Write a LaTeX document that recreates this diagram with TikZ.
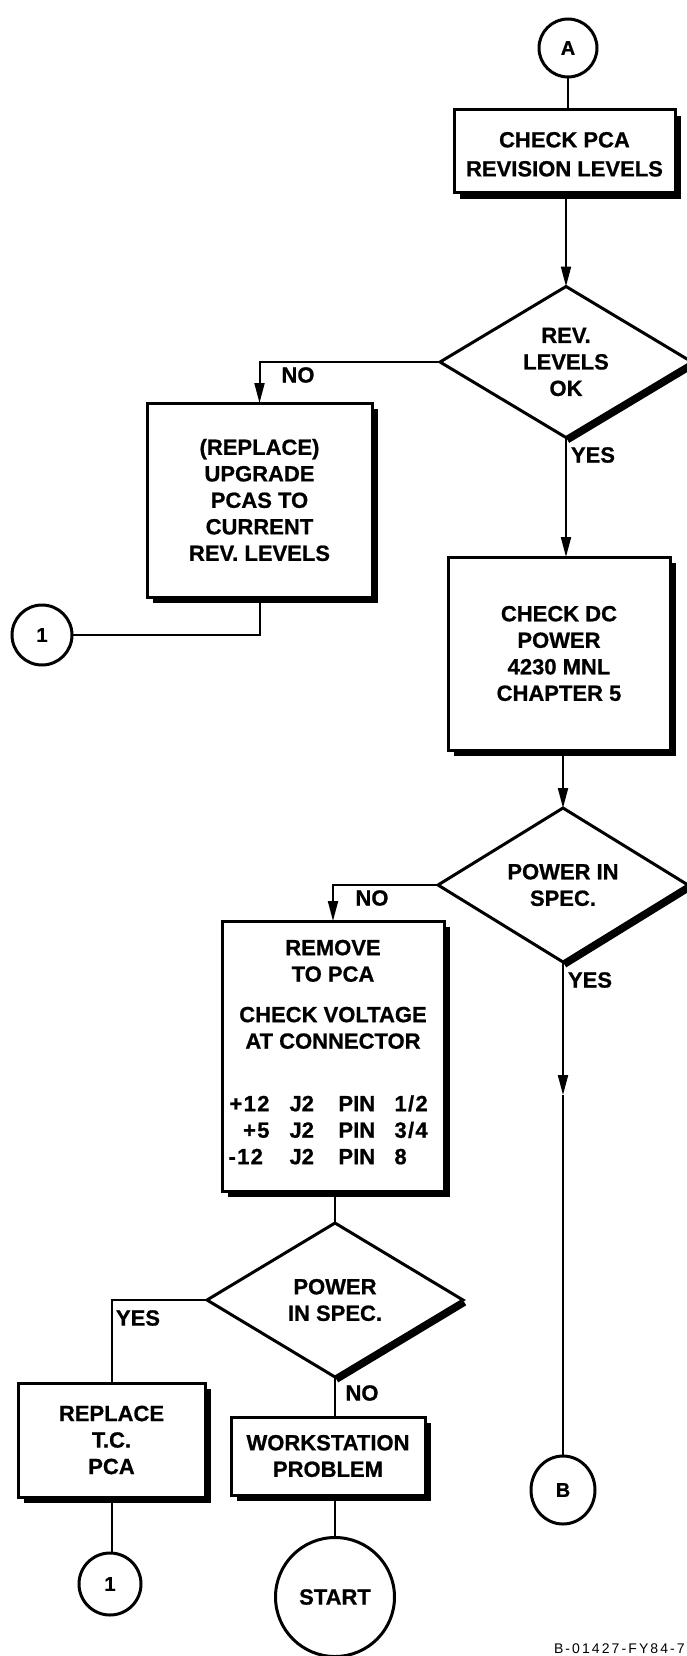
\documentclass[tikz,border=0pt]{standalone}
\usepackage{fontspec}
\setmainfont{Liberation Sans}[BoldFeatures={FakeBold=0.8}]
\usetikzlibrary{shapes.geometric,arrows.meta,calc}
\tikzset{
  txt/.style={font=\fontsize{22}{26.5}\selectfont\bfseries},
  pbox/.style={txt, draw, line width=3pt, rectangle, inner sep=0pt, outer sep=0pt, align=center},
  dec/.style={txt, draw, line width=3pt, diamond, aspect=1.66, inner sep=0pt, outer sep=0pt, align=center},
  conn/.style={draw, line width=3pt, circle, inner sep=0pt, outer sep=0pt, font=\fontsize{20}{22}\selectfont\bfseries},
  link/.style={line width=2pt},
  arr/.style={line width=2pt, -{Triangle[length=20pt,width=10pt]}},
  lbl/.style={txt, inner sep=0pt},
  shade/.style={line width=5pt},
}
\newcommand{\boxshadow}[1]{\draw[shade] ([shift={(3.5pt,-6pt)}]#1.north east) -- ([shift={(3.5pt,-3.5pt)}]#1.south east) -- ([shift={(6pt,-3.5pt)}]#1.south west);}
\newcommand{\decshadow}[1]{\draw[shade] ([shift={(1.9pt,-3.2pt)}]#1.east) -- ([shift={(1.9pt,-3.2pt)}]#1.south);}
\newcommand{\trow}[4]{\makebox[41pt][#1]{\addfontfeature{LetterSpace=6}#2}\hspace{20pt}\makebox[27pt][l]{J2}\hspace{22pt}\makebox[36pt][l]{PIN}\hspace{20pt}\makebox[43pt][l]{\addfontfeature{LetterSpace=6}#3}#4}
\begin{document}
\begin{tikzpicture}[x=1pt,y=-1pt]
\fill[white] (0,0) rectangle (686,1656);
\useasboundingbox (0,0) rectangle (686,1656);

% nodes
\node[conn, minimum size=58pt] (cA) at (568,48) {A};
\node[pbox, minimum width=221pt, minimum height=83pt, font=\fontsize{22}{29}\selectfont\bfseries] (b1) at (564.5,151.5) {\rule{0pt}{21pt}CHECK PCA\\REVISION LEVELS};
\node[dec, minimum width=252pt, minimum height=151pt] (d1) at (566,362) {REV.\\LEVELS\\OK};
\node[pbox, minimum width=225pt, minimum height=194pt] (b2) at (259.5,500) {(REPLACE)\\UPGRADE\\PCAS TO\\CURRENT\\REV. LEVELS};
\node[conn, minimum size=60pt] (c1a) at (42,635) {1};
\node[pbox, minimum width=222pt, minimum height=193pt] (b3) at (559,653.5) {CHECK DC\\POWER\\4230 MNL\\CHAPTER 5};
\node[dec, minimum width=250pt, minimum height=154pt] (d2) at (563,885) {POWER IN\\SPEC.};
\node[pbox, minimum width=222pt, minimum height=270pt] (b4) at (333,1056) {REMOVE\\TO PCA\\[14pt]CHECK VOLTAGE\\AT CONNECTOR\\[36pt]\trow{r}{+12}{1/2}{}\\\trow{r}{+5}{3/4}{}\\\trow{l}{-12}{8}{\rule[-8pt]{0pt}{8pt}}};
\node[dec, minimum width=256pt, minimum height=154pt] (d3) at (335,1300) {POWER\\IN SPEC.};
\node[pbox, minimum width=187pt, minimum height=114pt] (b5) at (111.5,1440) {REPLACE\\T.C.\\PCA};
\node[pbox, minimum width=194pt, minimum height=78pt] (b6) at (328,1456) {WORKSTATION\\PROBLEM};
\node[conn, ellipse, minimum width=64pt, minimum height=68pt] (cB) at (563,1490) {B};
\node[conn, minimum size=62pt] (c1b) at (110,1584) {1};
\node[conn, minimum size=119pt, font=\fontsize{22}{24}\selectfont\bfseries] (cS) at (335,1597) {START};

% shadows
\boxshadow{b1}\boxshadow{b2}\boxshadow{b3}\boxshadow{b4}\boxshadow{b5}\boxshadow{b6}
\decshadow{d1}\decshadow{d2}\decshadow{d3}

% connectors
\coordinate (ytip) at (563,1095);
\draw[link] (cA.south) -- (cA.south |- b1.north);
\draw[arr] (d1.north |- b1.south) -- (d1.north);
\draw[arr] (d1.west) -| (b2.north);
\draw[link] (b2.south) |- (c1a.east);
\draw[arr] (d1.south) -- (d1.south |- b3.north);
\draw[arr] (d2.north |- b3.south) -- (d2.north);
\draw[arr] (d2.west) -| (b4.north);
\draw[arr] (d2.south) -- (ytip);
\draw[link] (ytip) -- (cB.north);
\draw[link] (d3.north |- b4.south) -- (d3.north);
\draw[link] (d3.west) -| (b5.north);
\draw[link] (d3.south) -- (d3.south |- b6.north);
\draw[link] (b5.south) -- (b5.south |- c1b.north);
\draw[link] (cS.north |- b6.south) -- (cS.north);

% labels
\node[lbl] (n1) at (298,375) {NO};
\node[lbl] (y1) at (593,455) {YES};
\node[lbl] (n2) at (372,898) {NO};
\node[lbl] (y2) at (590,980) {YES};
\node[lbl] (y3) at (138,1318) {YES};
\node[lbl] (n3) at (362,1393) {NO};
\node[anchor=base east, inner sep=0pt, font=\fontsize{14}{16}\selectfont\addfontfeature{LetterSpace=15}] (fig) at (685,1653) {B-01427-FY84-7};
\end{tikzpicture}
\end{document}
